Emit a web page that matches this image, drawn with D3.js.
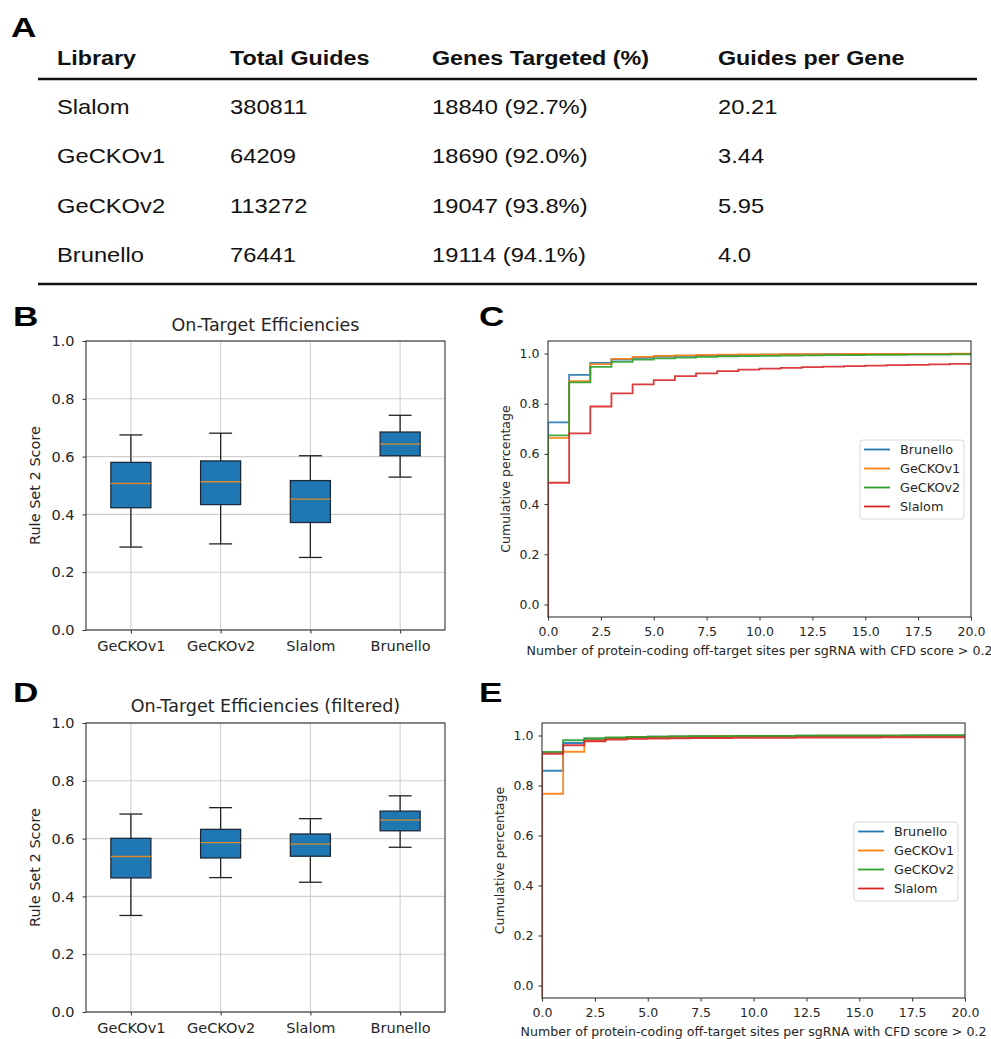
<!DOCTYPE html>
<html><head><meta charset="utf-8">
<script src="https://cdn.jsdelivr.net/npm/d3@7"></script>
<style>body{margin:0;background:#fff}svg{display:block}</style>
</head><body><svg id="c" width="991" height="1039"></svg>
<script>
// ---------- DATA ----------
const tableHeaders = ["Library", "Total Guides", "Genes Targeted (%)", "Guides per Gene"];
const tableLibraries = ["Slalom", "GeCKOv1", "GeCKOv2", "Brunello"];
const tableTotalGuides = ["380811", "64209", "113272", "76441"];
const tableGenesTargeted = ["18840 (92.7%)", "18690 (92.0%)", "19047 (93.8%)", "19114 (94.1%)"];
const tableGuidesPerGene = ["20.21", "3.44", "5.95", "4.0"];

const boxCategories = ["GeCKOv1", "GeCKOv2", "Slalom", "Brunello"];
// [whisker low, Q1, median, Q3, whisker high]
const boxStatsB = [
  [0.287, 0.423, 0.507, 0.580, 0.675],
  [0.298, 0.434, 0.513, 0.585, 0.681],
  [0.251, 0.372, 0.453, 0.517, 0.603],
  [0.529, 0.603, 0.643, 0.685, 0.743]
];
const boxStatsD = [
  [0.334, 0.464, 0.538, 0.601, 0.685],
  [0.465, 0.533, 0.586, 0.632, 0.707],
  [0.449, 0.539, 0.581, 0.616, 0.669],
  [0.570, 0.627, 0.664, 0.695, 0.748]
];
const boxYTicks = [0.0, 0.2, 0.4, 0.6, 0.8, 1.0];

const cdfSeries = ["Brunello", "GeCKOv1", "GeCKOv2", "Slalom"];
const cdfXTicks = [0, 2.5, 5, 7.5, 10, 12.5, 15, 17.5, 20];
const cdfYTicks = [0.0, 0.2, 0.4, 0.6, 0.8, 1.0];
// cumulative fraction for off-target counts 0..19
const cdfC_Brunello = [0.726, 0.915, 0.963, 0.976, 0.983, 0.988, 0.991, 0.993, 0.994, 0.995, 0.996, 0.997, 0.997, 0.998, 0.998, 0.998, 0.999, 0.999, 0.999, 0.999];
const cdfC_GeCKOv1  = [0.664, 0.890, 0.958, 0.979, 0.987, 0.991, 0.993, 0.995, 0.996, 0.997, 0.997, 0.998, 0.998, 0.998, 0.999, 0.999, 0.999, 0.999, 0.999, 1.000];
const cdfC_GeCKOv2  = [0.674, 0.885, 0.947, 0.967, 0.976, 0.981, 0.984, 0.987, 0.989, 0.990, 0.991, 0.992, 0.993, 0.994, 0.994, 0.995, 0.995, 0.996, 0.996, 0.997];
const cdfC_Slalom   = [0.485, 0.682, 0.789, 0.841, 0.877, 0.894, 0.910, 0.921, 0.930, 0.936, 0.940, 0.943, 0.946, 0.948, 0.950, 0.952, 0.954, 0.955, 0.957, 0.959];
const cdfE_Brunello = [0.859, 0.970, 0.985, 0.990, 0.993, 0.995, 0.996, 0.997, 0.997, 0.998, 0.998, 0.998, 0.999, 0.999, 0.999, 0.999, 0.999, 0.999, 1.000, 1.000];
const cdfE_GeCKOv1  = [0.767, 0.935, 0.980, 0.988, 0.992, 0.994, 0.995, 0.996, 0.997, 0.997, 0.998, 0.998, 0.998, 0.999, 0.999, 0.999, 0.999, 0.999, 0.999, 0.999];
const cdfE_GeCKOv2  = [0.934, 0.981, 0.989, 0.992, 0.994, 0.995, 0.996, 0.997, 0.997, 0.998, 0.998, 0.998, 0.999, 0.999, 0.999, 0.999, 0.999, 1.000, 1.000, 1.000];
const cdfE_Slalom   = [0.927, 0.961, 0.977, 0.984, 0.987, 0.988, 0.989, 0.990, 0.990, 0.991, 0.991, 0.991, 0.992, 0.992, 0.992, 0.992, 0.993, 0.993, 0.993, 0.993];

// ---------- STYLE ----------
const cdfColors = ["#1f77b4", "#ff7f0e", "#2ca02c", "#d62728"];
const MPL = "'DejaVu Sans', sans-serif";
const ARIAL = "'Liberation Sans', Arial, sans-serif";
const TXT = "#262626";

const svg = d3.select("#c");
svg.append("rect").attr("width", 991).attr("height", 1039).attr("fill", "#fff");

function panelLetter(t, x, y) {
  svg.append("text").text(t)
    .attr("transform", `translate(${x},${y}) scale(1.3,1)`)
    .attr("font-family", ARIAL).attr("font-weight", "bold").attr("font-size", 27)
    .attr("fill", "#000");
}

// ---------- TABLE A ----------
(function () {
  panelLetter("A", 11, 37);
  const colX = [57, 230, 432, 718];
  const g = svg.append("g");
  const put = (t, x, y, bold) => g.append("text").text(t)
    .attr("transform", `translate(${x},${y}) scale(${bold ? 1.11 : 1.13},1)`)
    .attr("font-family", ARIAL).attr("font-size", 21)
    .attr("font-weight", bold ? "bold" : "normal").attr("fill", "#111");
  tableHeaders.forEach((h, i) => put(h, colX[i], 65, true));
  const rowY = d3.scalePoint().domain(tableLibraries).range([114, 262]);
  tableLibraries.forEach((lib, r) => {
    const y = rowY(lib);
    put(lib, colX[0], y);
    put(tableTotalGuides[r], colX[1], y);
    put(tableGenesTargeted[r], colX[2], y);
    put(tableGuidesPerGene[r], colX[3], y);
  });
  g.append("line").attr("x1", 38).attr("x2", 977).attr("y1", 79).attr("y2", 79).attr("stroke", "#111").attr("stroke-width", 2.6);
  g.append("line").attr("x1", 38).attr("x2", 977).attr("y1", 284).attr("y2", 284).attr("stroke", "#111").attr("stroke-width", 2.6);
})();

function styleAxis(sel, fs) {
  sel.select(".domain").remove();
  sel.selectAll(".tick line").attr("stroke", "#333").attr("stroke-width", 1);
  sel.selectAll(".tick text").attr("font-family", MPL).attr("font-size", fs).attr("fill", TXT);
}

// ---------- BOX PANELS ----------
function boxPanel(cfg) {
  const x = d3.scalePoint().domain(boxCategories).range([cfg.left, cfg.right]).padding(0.5);
  const y = d3.scaleLinear().domain([0, 1]).range([cfg.bottom, cfg.top]);
  const g = svg.append("g");
  g.selectAll(".hg").data(boxYTicks).join("line")
    .attr("x1", cfg.left).attr("x2", cfg.right)
    .attr("y1", d => y(d)).attr("y2", d => y(d))
    .attr("stroke", "#cfcfcf").attr("stroke-width", 1.1);
  g.selectAll(".vg").data(boxCategories).join("line")
    .attr("x1", d => x(d)).attr("x2", d => x(d))
    .attr("y1", cfg.top).attr("y2", cfg.bottom)
    .attr("stroke", "#cfcfcf").attr("stroke-width", 1.1);
  const bw = x.step() * 0.446, cw = x.step() * 0.256;
  cfg.stats.forEach((s, i) => {
    const cx = x(boxCategories[i]);
    const bg = g.append("g");
    bg.append("line").attr("x1", cx).attr("x2", cx).attr("y1", y(s[0])).attr("y2", y(s[1])).attr("stroke", "#222").attr("stroke-width", 1.3);
    bg.append("line").attr("x1", cx).attr("x2", cx).attr("y1", y(s[3])).attr("y2", y(s[4])).attr("stroke", "#222").attr("stroke-width", 1.3);
    [s[0], s[4]].forEach(v => bg.append("line").attr("x1", cx - cw / 2).attr("x2", cx + cw / 2)
      .attr("y1", y(v)).attr("y2", y(v)).attr("stroke", "#222").attr("stroke-width", 1.3));
    bg.append("rect").attr("x", cx - bw / 2).attr("width", bw)
      .attr("y", y(s[3])).attr("height", y(s[1]) - y(s[3]))
      .attr("fill", "#1f77b4").attr("stroke", "#1a2a3a").attr("stroke-width", 1.3);
    bg.append("line").attr("x1", cx - bw / 2).attr("x2", cx + bw / 2).attr("y1", y(s[2])).attr("y2", y(s[2]))
      .attr("stroke", "#d98a2b").attr("stroke-width", 1.3);
  });
  g.append("rect").attr("x", cfg.left).attr("y", cfg.top).attr("width", cfg.right - cfg.left).attr("height", cfg.bottom - cfg.top)
    .attr("fill", "none").attr("stroke", "#333").attr("stroke-width", 1.1);
  g.append("g").attr("transform", `translate(${cfg.left},0)`)
    .call(d3.axisLeft(y).tickValues(boxYTicks).tickFormat(d3.format(".1f")).tickSize(3.5).tickPadding(8))
    .call(a => styleAxis(a, 14.5));
  g.append("g").attr("transform", `translate(0,${cfg.bottom})`)
    .call(d3.axisBottom(x).tickSize(3.5).tickPadding(7))
    .call(a => styleAxis(a, 14.5));
  g.append("text").text(cfg.title).attr("x", (cfg.left + cfg.right) / 2).attr("y", cfg.titleY)
    .attr("text-anchor", "middle").attr("font-family", MPL).attr("font-size", 17.5).attr("fill", TXT);
  g.append("text").text("Rule Set 2 Score")
    .attr("transform", `translate(${cfg.ylabX},${(cfg.top + cfg.bottom) / 2}) rotate(-90)`)
    .attr("text-anchor", "middle").attr("dominant-baseline", "central")
    .attr("font-family", MPL).attr("font-size", 14.5).attr("fill", TXT);
}

panelLetter("B", 13, 326);
boxPanel({ left: 86, right: 445, top: 341, bottom: 630, stats: boxStatsB, title: "On-Target Efficiencies", titleY: 331, ylabX: 35 });
panelLetter("D", 13, 702);
boxPanel({ left: 86, right: 445, top: 723, bottom: 1012, stats: boxStatsD, title: "On-Target Efficiencies (filtered)", titleY: 712, ylabX: 35 });

// ---------- CDF PANELS ----------
let clipId = 0;
function cdfPanel(cfg) {
  const x = d3.scaleLinear().domain([0, 20]).range([cfg.left, cfg.right]);
  const y = d3.scaleLinear().domain([-0.05, 1.05]).range([cfg.bottom, cfg.top]);
  const g = svg.append("g");
  const id = "clip" + (clipId++);
  g.append("clipPath").attr("id", id).append("rect")
    .attr("x", cfg.left).attr("y", cfg.top).attr("width", cfg.right - cfg.left).attr("height", cfg.bottom - cfg.top);
  const line = d3.line().x(d => x(d[0])).y(d => y(d[1])).curve(d3.curveStepAfter);
  const lg = g.append("g").attr("clip-path", `url(#${id})`);
  cfg.series.forEach((vals, k) => {
    const pts = [[0, y.domain()[0]]].concat(vals.map((v, i) => [i, v]));
    pts.push([x.domain()[1], vals[vals.length - 1]]);
    lg.append("path").attr("d", line(pts)).attr("fill", "none")
      .attr("stroke", cdfColors[k]).attr("stroke-width", 1.8).attr("stroke-opacity", 0.9);
  });
  g.append("rect").attr("x", cfg.left).attr("y", cfg.top).attr("width", cfg.right - cfg.left).attr("height", cfg.bottom - cfg.top)
    .attr("fill", "none").attr("stroke", "#333").attr("stroke-width", 1.1);
  g.append("g").attr("transform", `translate(${cfg.left},0)`)
    .call(d3.axisLeft(y).tickValues(cdfYTicks).tickFormat(d3.format(".1f")).tickSize(3.5).tickPadding(5))
    .call(a => styleAxis(a, 12.5));
  g.append("g").attr("transform", `translate(0,${cfg.bottom})`)
    .call(d3.axisBottom(x).tickValues(cdfXTicks).tickFormat(d3.format(".1f")).tickSize(3.5).tickPadding(6.5))
    .call(a => styleAxis(a, 12.5));
  g.append("text").text("Number of protein-coding off-target sites per sgRNA with CFD score > 0.2")
    .attr("x", (cfg.left + cfg.right) / 2).attr("y", cfg.xlabY).attr("text-anchor", "middle")
    .attr("font-family", MPL).attr("font-size", 12.6).attr("fill", TXT);
  g.append("text").text("Cumulative percentage")
    .attr("transform", `translate(${cfg.ylabX},${(cfg.top + cfg.bottom) / 2}) rotate(-90)`)
    .attr("text-anchor", "middle").attr("dominant-baseline", "central")
    .attr("font-family", MPL).attr("font-size", 12.6).attr("fill", TXT);
  // legend
  const L = cfg.legend;
  const leg = g.append("g");
  leg.append("rect").attr("x", L.x).attr("y", L.y).attr("width", L.w).attr("height", L.h).attr("rx", 3)
    .attr("fill", "#fff").attr("fill-opacity", 0.85).attr("stroke", "#d8d8d8");
  const ly = d3.scalePoint().domain(cdfSeries).range([L.y + 9.5, L.y + L.h - 12.5]);
  cdfSeries.forEach((s, k) => {
    leg.append("line").attr("x1", L.x + 4).attr("x2", L.x + 30).attr("y1", ly(s)).attr("y2", ly(s))
      .attr("stroke", cdfColors[k]).attr("stroke-width", 1.8);
    leg.append("text").text(s).attr("x", L.x + 40).attr("y", ly(s)).attr("dominant-baseline", "central")
      .attr("font-family", MPL).attr("font-size", 12.8).attr("fill", TXT);
  });
}

panelLetter("C", 479, 326);
cdfPanel({ left: 548, right: 971, top: 341, bottom: 617,
  series: [cdfC_Brunello, cdfC_GeCKOv1, cdfC_GeCKOv2, cdfC_Slalom],
  xlabY: 655, ylabX: 505, legend: { x: 860, y: 440, w: 104, h: 79 } });
panelLetter("E", 479, 702);
cdfPanel({ left: 542, right: 965, top: 723, bottom: 998,
  series: [cdfE_Brunello, cdfE_GeCKOv1, cdfE_GeCKOv2, cdfE_Slalom],
  xlabY: 1036, ylabX: 499, legend: { x: 854, y: 822, w: 104, h: 79 } });
</script></body></html>
